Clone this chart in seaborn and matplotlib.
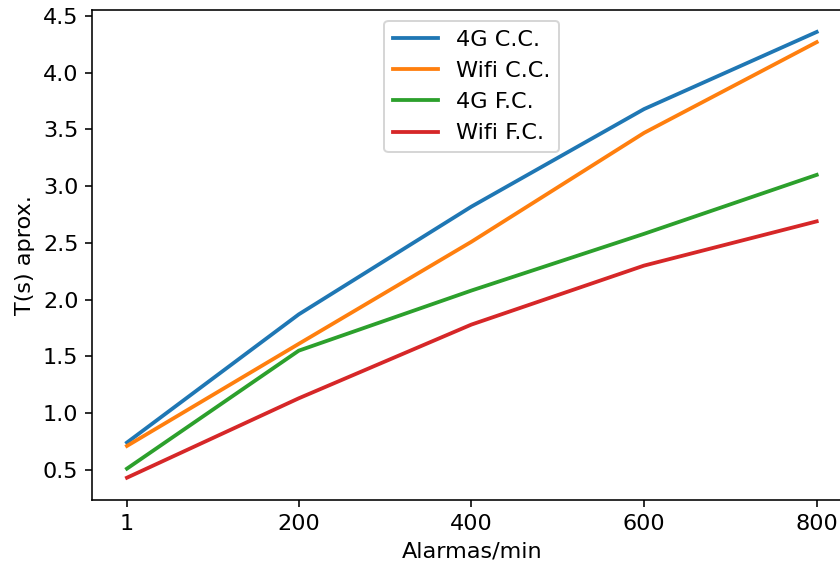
import matplotlib
matplotlib.use("Agg")
import matplotlib.pyplot as plt
import seaborn as sns

# Alarm rates (alarms per minute) on the x axis
alarmas = [1, 200, 400, 600, 800]

# Approximate response time in seconds for each configuration
t_4g_cc = [0.74, 1.87, 2.82, 3.68, 4.36]
t_wifi_cc = [0.71, 1.61, 2.51, 3.47, 4.27]
t_4g_fc = [0.51, 1.55, 2.08, 2.58, 3.10]
t_wifi_fc = [0.43, 1.13, 1.78, 2.30, 2.69]

series = {
    "4G C.C.": t_4g_cc,
    "Wifi C.C.": t_wifi_cc,
    "4G F.C.": t_4g_fc,
    "Wifi F.C.": t_wifi_fc,
}

plt.rcParams["font.size"] = 11.2

fig = plt.figure(figsize=(840 / 144, 572 / 144), dpi=144)
ax = fig.add_axes([0.1101, 0.1259, 0.9032, 0.8572])

colors = sns.color_palette("tab10", 4)
for (name, values), c in zip(series.items(), colors):
    sns.lineplot(x=alarmas, y=values, label=name, color=c, linewidth=1.9, ax=ax)

ax.set_xticks(alarmas)
ax.set_xticklabels([str(a) for a in alarmas])
ax.set_xlabel("Alarmas/min")
ax.set_ylabel("T(s) aprox.")
ax.legend(loc="upper center")

fig.savefig("out.png", dpi=144)
